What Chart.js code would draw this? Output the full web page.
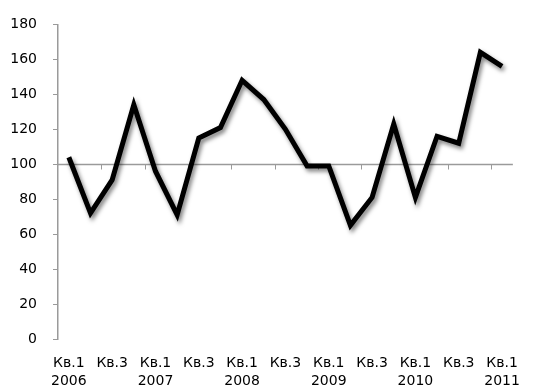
<!DOCTYPE html>
<html>
<head>
<meta charset="utf-8">
<script src="https://cdn.jsdelivr.net/npm/chart.js@4/dist/chart.umd.min.js"></script>
<style>
  html, body { margin: 0; padding: 0; background: #fff; overflow: hidden; }
  #wrap { width: 535px; height: 390px; }
</style>
</head>
<body>
<div id="wrap"><canvas id="c" width="535" height="390"></canvas></div>
<script>
// Quarterly index, Q1 2006 – Q1 2011
const quarters = ['Кв.1','Кв.2','Кв.3','Кв.4','Кв.1','Кв.2','Кв.3','Кв.4','Кв.1','Кв.2','Кв.3','Кв.4','Кв.1','Кв.2','Кв.3','Кв.4','Кв.1','Кв.2','Кв.3','Кв.4','Кв.1'];
const years = ['2006','','','','2007','','','','2008','','','','2009','','','','2010','','','','2011'];
const values = [104, 72, 91, 134, 96, 71, 115, 121, 148, 137, 120, 99, 99, 65, 81, 123, 81, 116, 112, 164, 156];
const yTicks = [0, 20, 40, 60, 80, 100, 120, 140, 160, 180];
const baseline = 100;

const labels = quarters.map((q, i) => years[i] ? [q, years[i]] : [q]);

// Horizontal category line crossing the value axis at the baseline, with tick marks
const baselinePlugin = {
  id: 'baseline',
  beforeDatasetsDraw(chart) {
    const { ctx, chartArea, scales } = chart;
    const y = Math.round(scales.y.getPixelForValue(baseline)) + 0.5;
    const step = scales.x.getPixelForValue(1) - scales.x.getPixelForValue(0);
    ctx.save();
    ctx.strokeStyle = '#9a9a9a';
    ctx.lineWidth = 1.5;
    ctx.beginPath();
    ctx.moveTo(chartArea.left, y);
    ctx.lineTo(chartArea.right, y);
    ctx.stroke();
    ctx.lineWidth = 1;
    for (let i = 2; i < values.length; i += 2) {
      const x = Math.round(scales.x.getPixelForValue(i) - step / 2) + 0.5;
      ctx.beginPath();
      ctx.moveTo(x, y);
      ctx.lineTo(x, y + 5);
      ctx.stroke();
    }
    ctx.restore();
  }
};

// Soft drop shadow under the series line
const shadowPlugin = {
  id: 'lineShadow',
  beforeDatasetDraw(chart) {
    const ctx = chart.ctx;
    ctx.save();
    ctx.shadowColor = 'rgba(0,0,0,0.5)';
    ctx.shadowBlur = 4;
    ctx.shadowOffsetX = 2;
    ctx.shadowOffsetY = 3;
  },
  afterDatasetDraw(chart) {
    chart.ctx.restore();
  }
};

new Chart(document.getElementById('c'), {
  type: 'line',
  data: {
    labels: labels,
    datasets: [{
      data: values,
      borderColor: '#000',
      borderWidth: 5,
      borderJoinStyle: 'miter',
      borderCapStyle: 'butt',
      pointRadius: 0,
      tension: 0,
      fill: false
    }]
  },
  options: {
    responsive: false,
    animation: false,
    events: [],
    layout: { padding: { top: 18, left: 10, right: 6, bottom: 0 } },
    plugins: { legend: { display: false }, tooltip: { enabled: false } },
    scales: {
      x: {
        offset: true,
        grid: { display: false, drawTicks: false },
        border: { display: false },
        afterFit: (scale) => { scale.height = 51; },
        ticks: {
          autoSkip: false,
          maxRotation: 0,
          padding: 15,
          color: '#000',
          font: { family: 'DejaVu Sans', size: 14, lineHeight: 1.3 },
          callback: (v, i) => (i % 2 === 0 ? labels[i] : '')
        }
      },
      y: {
        min: 0,
        max: 180,
        afterBuildTicks: (scale) => { scale.ticks = yTicks.map(v => ({ value: v })); },
        afterFit: (scale) => { scale.width = 48; },
        grid: { drawOnChartArea: false, drawTicks: true, tickLength: 5, color: '#9a9a9a' },
        border: { display: true, color: '#9a9a9a', width: 1.5 },
        ticks: {
          padding: 16,
          color: '#000',
          font: { family: 'DejaVu Sans', size: 14 }
        }
      }
    }
  },
  plugins: [baselinePlugin, shadowPlugin]
});
</script>
</body>
</html>
